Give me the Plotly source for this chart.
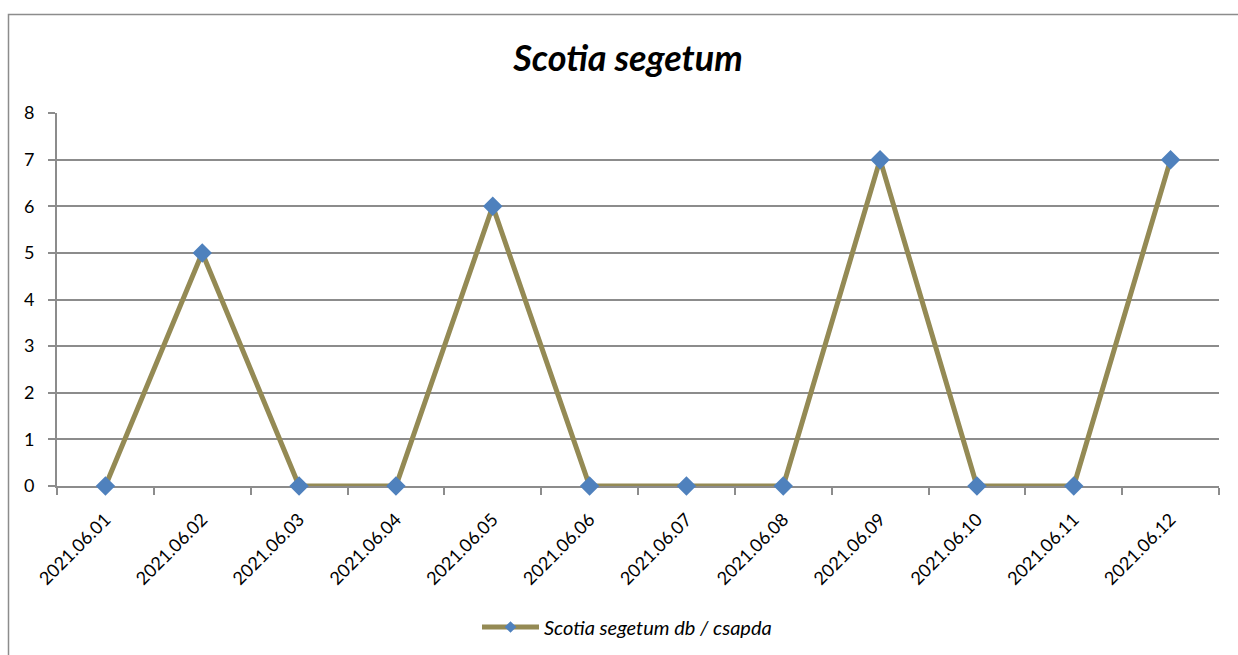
import plotly.graph_objects as go

dates = ["2021.06.01", "2021.06.02", "2021.06.03", "2021.06.04", "2021.06.05", "2021.06.06",
         "2021.06.07", "2021.06.08", "2021.06.09", "2021.06.10", "2021.06.11", "2021.06.12"]
counts = [0, 5, 0, 0, 6, 0, 0, 0, 7, 0, 0, 7]
series_name = "Scotia segetum db / csapda"
title_text = "Scotia segetum"

W, H = 1238, 655
L, R, T, B = 57, 19, 113, 169
pw, ph = W - L - R, H - T - B

def px(x):
    return (x - L) / pw

def py(y):
    return (H - B - y) / ph

fig = go.Figure()
fig.add_trace(go.Scatter(
    x=dates, y=counts, mode="lines+markers", name=series_name, showlegend=False,
    cliponaxis=False,
    line=dict(color="#948A54", width=5),
    marker=dict(symbol="diamond", size=15, color="#4F81BD", line=dict(width=0)),
))
# legend-only entry with smaller marker, as in the reference
fig.add_trace(go.Scatter(
    x=[None], y=[None], mode="lines+markers", name=series_name, showlegend=True,
    line=dict(color="#948A54", width=5),
    marker=dict(symbol="diamond", size=9, color="#4F81BD", line=dict(width=0)),
))

fig.update_layout(
    width=W, height=H,
    margin=dict(l=L, r=R, t=T, b=B, autoexpand=False),
    paper_bgcolor="white", plot_bgcolor="white",
    font=dict(family="Lato, 'Open Sans', sans-serif", size=18, color="black"),
    title=dict(text="<b><i>" + title_text + "</i></b>", x=628 / W, xanchor="center",
               y=1 - 58 / H, yanchor="middle", yref="container",
               font=dict(size=36, color="black")),
    showlegend=True,
    legend=dict(x=px(627), xanchor="center", y=py(627), yanchor="middle",
                orientation="h", itemwidth=57, font=dict(size=20, style="italic")),
    xaxis=dict(type="category", tickson="boundaries", showgrid=False, automargin=False,
               showline=True, linecolor="#8c8c8c", linewidth=2, layer="below traces",
               ticks="outside", ticklen=7, tickcolor="#8c8c8c", tickwidth=2,
               tickangle=-45, range=[-0.5, 11.5], ticklabelstandoff=14),
    yaxis=dict(range=[0, 8], dtick=1, showgrid=True, gridcolor="#8c8c8c", gridwidth=1.5,
               showline=True, linecolor="#8c8c8c", linewidth=2, automargin=False,
               layer="below traces",
               ticks="outside", ticklen=7, tickcolor="#8c8c8c", tickwidth=2,
               zeroline=False, ticklabelstandoff=10),
)

fig.add_shape(type="path", xref="paper", yref="paper",
              path=f"M {px(8.5)} {py(H + 10)} L {px(8.5)} {py(14.5)} L {px(W + 10)} {py(14.5)}",
              line=dict(color="#8c8c8c", width=1.5))

fig.write_html("out.html")
